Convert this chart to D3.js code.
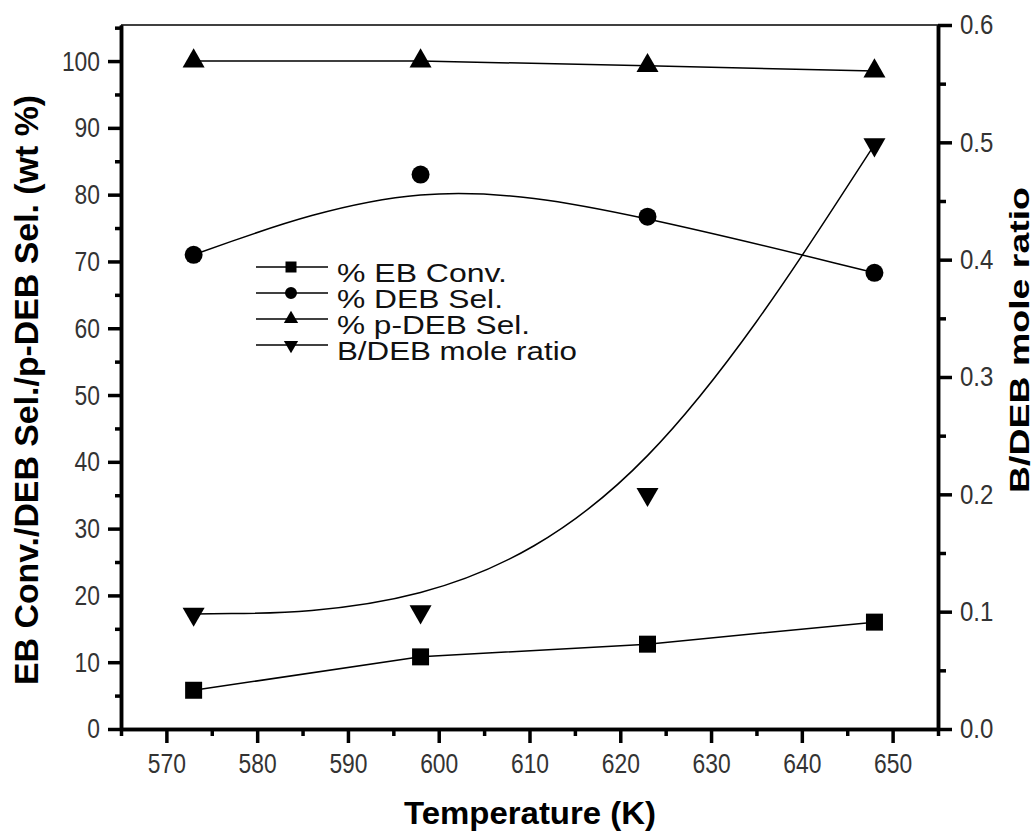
<!DOCTYPE html>
<html>
<head>
<meta charset="utf-8">
<title>EB conversion / DEB selectivity vs temperature</title>
<script src="https://cdn.jsdelivr.net/npm/d3@7"></script>
<style>
  body { margin: 0; background: #fff; }
  text { font-family: "Liberation Sans", Arial, sans-serif; }
</style>
</head>
<body>
<svg id="chart" width="1036" height="836"></svg>
<script>
// data
const temps = [573, 598, 623, 648]
const ebConv = [5.8, 10.8, 12.7, 16.0]
const debSel = [71.0, 83.0, 76.7, 68.3]
const pdebSel = [100.0, 100.0, 99.3, 98.5]
const bdebRatio = [0.098, 0.1, 0.2, 0.498]

const xTicks = [570, 580, 590, 600, 610, 620, 630, 640, 650]
const xMinor = [565, 575, 585, 595, 605, 615, 625, 635, 645, 655]
const leftTicks = [0, 10, 20, 30, 40, 50, 60, 70, 80, 90, 100]
const leftMinor = [5, 15, 25, 35, 45, 55, 65, 75, 85, 95, 105]
const rightTicks = [0, 0.1, 0.2, 0.3, 0.4, 0.5, 0.6]
const rightMinor = [0.05, 0.15, 0.25, 0.35, 0.45, 0.55]
const legendNames = ["% EB Conv.", "% DEB Sel.", "% p-DEB Sel.", "B/DEB mole ratio"]

const svg = d3.select("#chart")

const x = d3.scaleLinear().domain([565, 655]).range([121, 938])
const yL = d3.scaleLinear().domain([0, 105.4]).range([729, 25])
const yR = d3.scaleLinear().domain([0, 0.6]).range([729, 25])

// rough width of a tick label so the narrow digits match
const labelLen = s => s.replace(/\./g, "").length * 12.7 + (s.includes(".") ? 8 : 0)

function styleAxis(g) {
  g.select(".domain").attr("stroke", "#000").attr("stroke-width", 3.5)
  g.selectAll(".tick line").attr("stroke", "#000").attr("stroke-width", 3.5)
  g.selectAll(".tick text")
    .attr("font-size", 28)
    .attr("fill", "#333")
    .attr("font-family", "Liberation Sans, Arial, sans-serif")
    .attr("textLength", function () { return labelLen(this.textContent) })
    .attr("lengthAdjust", "spacingAndGlyphs")
}

// top border
svg.append("line")
  .attr("x1", x(565)).attr("x2", x(655))
  .attr("y1", yL.range()[1]).attr("y2", yL.range()[1])
  .attr("stroke", "#000").attr("stroke-width", 1.5)

// bottom axis
svg.append("g").attr("transform", "translate(0,729)")
  .call(d3.axisBottom(x).tickValues(xMinor).tickSize(7).tickSizeOuter(0).tickFormat(""))
  .call(styleAxis)
svg.append("g").attr("transform", "translate(0,729)")
  .call(d3.axisBottom(x).tickValues(xTicks).tickSize(14).tickSizeOuter(0).tickPadding(10).tickFormat(d3.format("d")))
  .call(styleAxis)

// left axis
svg.append("g").attr("transform", "translate(121,0)")
  .call(d3.axisLeft(yL).tickValues(leftMinor).tickSize(6).tickSizeOuter(0).tickFormat(""))
  .call(styleAxis)
svg.append("g").attr("transform", "translate(121,0)")
  .call(d3.axisLeft(yL).tickValues(leftTicks).tickSize(13).tickSizeOuter(0).tickPadding(8).tickFormat(d3.format("d")))
  .call(styleAxis)

// right axis
svg.append("g").attr("transform", "translate(938,0)")
  .call(d3.axisRight(yR).tickValues(rightMinor).tickSize(8).tickSizeOuter(0).tickFormat(""))
  .call(styleAxis)
svg.append("g").attr("transform", "translate(938,0)")
  .call(d3.axisRight(yR).tickValues(rightTicks).tickSize(14).tickSizeOuter(0).tickPadding(8).tickFormat(d3.format(".1f")))
  .call(styleAxis)

// axis titles
svg.append("text")
  .attr("x", 530).attr("y", 824)
  .attr("text-anchor", "middle")
  .attr("font-size", 32).attr("font-weight", "bold")
  .attr("textLength", 252).attr("lengthAdjust", "spacingAndGlyphs")
  .text("Temperature (K)")

svg.append("text")
  .attr("transform", "translate(38,390) rotate(-90)")
  .attr("text-anchor", "middle")
  .attr("font-size", 33).attr("font-weight", "bold")
  .attr("textLength", 590).attr("lengthAdjust", "spacingAndGlyphs")
  .text("EB Conv./DEB Sel./p-DEB Sel. (wt %)")

svg.append("text")
  .attr("transform", "translate(1029,340) rotate(-90)")
  .attr("text-anchor", "middle")
  .attr("font-size", 27).attr("font-weight", "bold")
  .attr("textLength", 306).attr("lengthAdjust", "spacingAndGlyphs")
  .text("B/DEB mole ratio")

// series
const series = [
  {values: ebConv, y: yL, curve: d3.curveLinear, sym: d3.symbolSquare, size: 289, flip: false},
  {values: debSel, y: yL, curve: d3.curveBasis, sym: d3.symbolCircle, size: 254, flip: false},
  {values: pdebSel, y: yL, curve: d3.curveLinear, sym: d3.symbolTriangle, size: 210, flip: false},
  {values: bdebRatio, y: yR, curve: d3.curveBasis, sym: d3.symbolTriangle, size: 210, flip: true},
]

for (const s of series) {
  const line = d3.line()
    .x((d, i) => x(temps[i]))
    .y(d => s.y(d))
    .curve(s.curve)

  svg.append("path")
    .attr("d", line(s.values))
    .attr("fill", "none")
    .attr("stroke", "#000")
    .attr("stroke-width", 1.5)

  svg.selectAll(null)
    .data(s.values)
    .join("path")
    .attr("transform", (d, i) => `translate(${x(temps[i])},${s.y(d)})` + (s.flip ? " rotate(180)" : ""))
    .attr("d", d3.symbol().type(s.sym).size(s.size))
    .attr("fill", "#000")
}

// legend
const legendSizes = [121, 113, 88, 88]
legendNames.forEach((name, i) => {
  const ry = 267 + i * 26
  const g = svg.append("g")
  g.append("line")
    .attr("x1", 256).attr("x2", 328)
    .attr("y1", ry).attr("y2", ry)
    .attr("stroke", "#000").attr("stroke-width", 1.5)
  g.append("path")
    .attr("transform", `translate(291,${ry})` + (series[i].flip ? " rotate(180)" : ""))
    .attr("d", d3.symbol().type(series[i].sym).size(legendSizes[i]))
    .attr("fill", "#000")
  g.append("text")
    .attr("x", 337).attr("y", ry + 15)
    .attr("font-size", 25)
    .attr("fill", "#111")
    .attr("textLength", [170, 166, 193, 240][i])
    .attr("lengthAdjust", "spacingAndGlyphs")
    .text(name)
})
</script>
</body>
</html>
